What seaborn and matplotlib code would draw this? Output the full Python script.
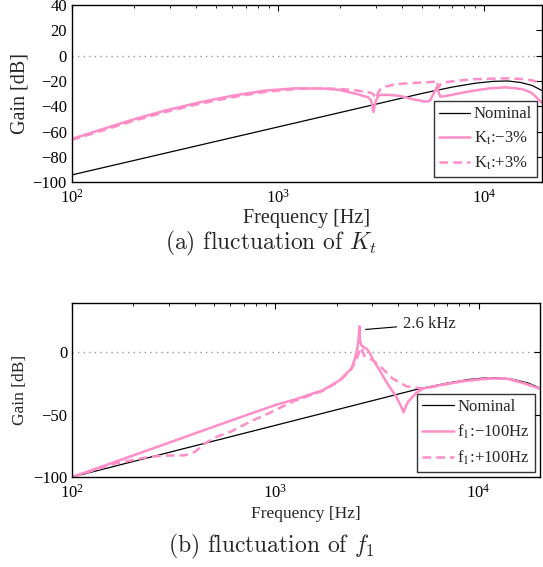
import numpy as np
import pandas as pd
import matplotlib
matplotlib.use("Agg")
import matplotlib.pyplot as plt
import matplotlib.ticker as mticker
import seaborn as sns

# (a) fluctuation of Kt
freq_a_nom = [100, 200, 500, 1000, 2000, 3000, 5000, 7000, 9000, 11000, 13000, 15000, 17000, 19000]
gain_a_nom = [-94.2, -82.8, -67.7, -56.3, -44.9, -38.2, -29.8, -24.8, -21.8, -20.3, -20.0, -21.2, -23.5, -27.5]

freq_a_m3 = [100, 134, 195, 283, 410, 594, 862, 1205, 1650, 1990, 2400, 2730, 2830, 2900, 2960,
             3016, 3105, 3470, 3885, 4500, 5000, 5225, 5450, 5627, 5800, 5888, 5980, 6114, 6535,
             7870, 9000, 10600, 12760, 15350, 17000, 18900]
gain_a_m3 = [-65.8, -59.2, -50.8, -43.4, -37.1, -31.8, -27.6, -25.8, -26.0, -27.1, -30.2, -32.9, -35.5,
             -44.5, -37.0, -33.7, -31.0, -31.0, -31.8, -34.4, -35.8, -36.3, -35.5, -31.0, -27.0, -24.5,
             -28.0, -32.4, -31.8, -29.2, -27.5, -25.8, -25.0, -26.5, -29.5, -37.0]

freq_a_p3 = [100, 134, 195, 283, 410, 594, 862, 1205, 1650, 2000, 2400, 2800, 2900, 2980, 3060, 3150,
             3290, 3800, 4500, 5300, 5750, 5880, 5980, 6150, 6500, 7500, 8790, 10600, 12760, 15350,
             17000, 18900]
gain_a_p3 = [-66.6, -60.2, -52.0, -44.6, -38.3, -33.0, -28.6, -26.4, -25.8, -26.3, -27.5, -29.2, -30.5,
             -34.0, -29.0, -26.0, -24.5, -22.4, -21.6, -21.0, -20.5, -19.5, -25.0, -22.5, -21.0, -19.6,
             -18.7, -18.2, -17.9, -18.5, -19.5, -21.8]

# (b) fluctuation of f1
freq_b_nom = [100, 300, 1000, 3000, 5000, 7000, 9000, 11000, 13000, 15000, 17500, 20000]
gain_b_nom = [-100, -80.2, -58.5, -38.7, -29.5, -24.6, -21.6, -20.3, -20.4, -21.8, -24.5, -28.5]

freq_b_m100 = [100, 200, 400, 700, 1000, 1245, 1714, 2071, 2364, 2450, 2530, 2570, 2590, 2610, 2640,
               2700, 2780, 2853, 2950, 3019, 3250, 3514, 3935, 4150, 4275, 4400, 4487, 4935, 5320,
               6430, 8360, 11300, 13670, 16500, 20000]
gain_b_m100 = [-100, -82.6, -65.1, -51.0, -42.2, -37.8, -30.3, -22.3, -12.9, -6.0, 3.0, 12.0, 21.0,
               10.0, 6.0, 4.5, 3.5, 1.8, -2.0, -5.6, -14.0, -23.6, -35.7, -43.0, -48.0, -43.0, -39.7,
               -32.5, -29.0, -26.3, -23.0, -20.9, -20.9, -24.4, -29.0]

freq_b_p100 = [100, 162, 237, 286, 358, 401, 449, 503, 608, 763, 886, 1245, 1714, 2071, 2364, 2500,
               2580, 2650, 2700, 2750, 2850, 3000, 3365, 3773, 4406, 5320, 6430, 8360, 11300, 13670,
               16500, 20000]
gain_b_p100 = [-100, -89.2, -83.9, -82.8, -82.6, -79.9, -73.2, -68.3, -63.3, -55.0, -50.4, -38.8,
               -30.8, -22.8, -13.5, -6.0, 0.0, 4.0, 0.0, -3.0, -4.5, -6.0, -12.9, -20.9, -27.1, -29.0,
               -26.5, -23.0, -20.9, -20.9, -24.4, -29.0]

pink = "#ff8ec8"

sns.set_theme(style="white")
plt.rcParams["font.family"] = ["Liberation Serif", "DejaVu Serif"]
plt.rcParams["mathtext.fontset"] = "stix"
plt.rcParams["axes.unicode_minus"] = True


def style_axes(ax, yticks, xmax, fs_label, ypad, xpad):
    ax.set_xscale("log")
    ax.set_xlim(100, xmax)
    ax.set_ylim(-100, 40)
    ax.set_yticks(yticks)
    ax.xaxis.set_major_locator(mticker.LogLocator(base=10))
    ax.xaxis.set_minor_locator(mticker.LogLocator(base=10, subs=np.arange(2, 10)))
    ax.xaxis.set_minor_formatter(mticker.NullFormatter())
    ax.tick_params(which="both", direction="in", top=True, right=True, labelsize=12, colors="black")
    ax.tick_params(which="major", length=4.5, width=0.8)
    ax.tick_params(which="minor", length=2.5, width=0.6)
    ax.tick_params(axis="x", which="major", pad=5)
    for s in ax.spines.values():
        s.set_color("black")
        s.set_linewidth(1.0)
    ax.axhline(0, color="0.6", ls=(0, (1, 3)), lw=1.0, zorder=0)
    ax.set_xlabel("Frequency [Hz]", fontsize=fs_label, labelpad=xpad)
    ax.set_ylabel("Gain [dB]", fontsize=fs_label, labelpad=ypad)


def make_legend(ax):
    leg = ax.legend(loc="lower right", bbox_to_anchor=(1.0, 0.0), fontsize=12, frameon=True,
                    fancybox=False, edgecolor="black", handlelength=1.9, labelspacing=0.45,
                    borderaxespad=0.3, borderpad=0.3, handletextpad=0.2)
    leg.get_frame().set_linewidth(1.0)
    return leg


fig = plt.figure(figsize=(5.43, 5.67), dpi=100)

# ---- (a) ----
ax1 = fig.add_axes([0.132, 0.6785, 0.866, 0.3127])
sns.lineplot(x=freq_a_nom, y=gain_a_nom, ax=ax1, color="black", lw=0.9, label="Nominal")
sns.lineplot(x=freq_a_m3, y=gain_a_m3, ax=ax1, color=pink, lw=1.8, label="K$_{\\rm t}$:\u22123%")
sns.lineplot(x=freq_a_p3, y=gain_a_p3, ax=ax1, color=pink, lw=1.8, ls=(0, (3.5, 2)),
             label="K$_{\\rm t}$:+3%")
style_axes(ax1, np.arange(-100, 41, 20), 1.9e4, 14.5, 2, 1)
make_legend(ax1)

# ---- (b) ----
ax2 = fig.add_axes([0.133, 0.1587, 0.861, 0.3075])
sns.lineplot(x=freq_b_nom, y=gain_b_nom, ax=ax2, color="black", lw=0.9, label="Nominal")
sns.lineplot(x=freq_b_m100, y=gain_b_m100, ax=ax2, color=pink, lw=1.8,
             label="f$_{\\rm 1}$:\u2212100Hz")
sns.lineplot(x=freq_b_p100, y=gain_b_p100, ax=ax2, color=pink, lw=1.8, ls=(0, (3.5, 2)),
             label="f$_{\\rm 1}$:+100Hz")
style_axes(ax2, [-100, -50, 0], 2e4, 12.5, 4, 3)
make_legend(ax2)

ax2.annotate("2.6 kHz", xy=(2780, 18.5), xytext=(4230, 22.7), fontsize=12, va="center",
             arrowprops=dict(arrowstyle="-", color="black", lw=0.8, shrinkA=2, shrinkB=0))

# captions
fig.text(0.5, 0.570, "(a) fluctuation of $K_t$", ha="center", va="center", fontsize=17,
         family="cmr10", math_fontfamily="cm")
fig.text(0.5, 0.037, "(b) fluctuation of $f_1$", ha="center", va="center", fontsize=17,
         family="cmr10", math_fontfamily="cm")

fig.savefig("out.png", dpi=100)
